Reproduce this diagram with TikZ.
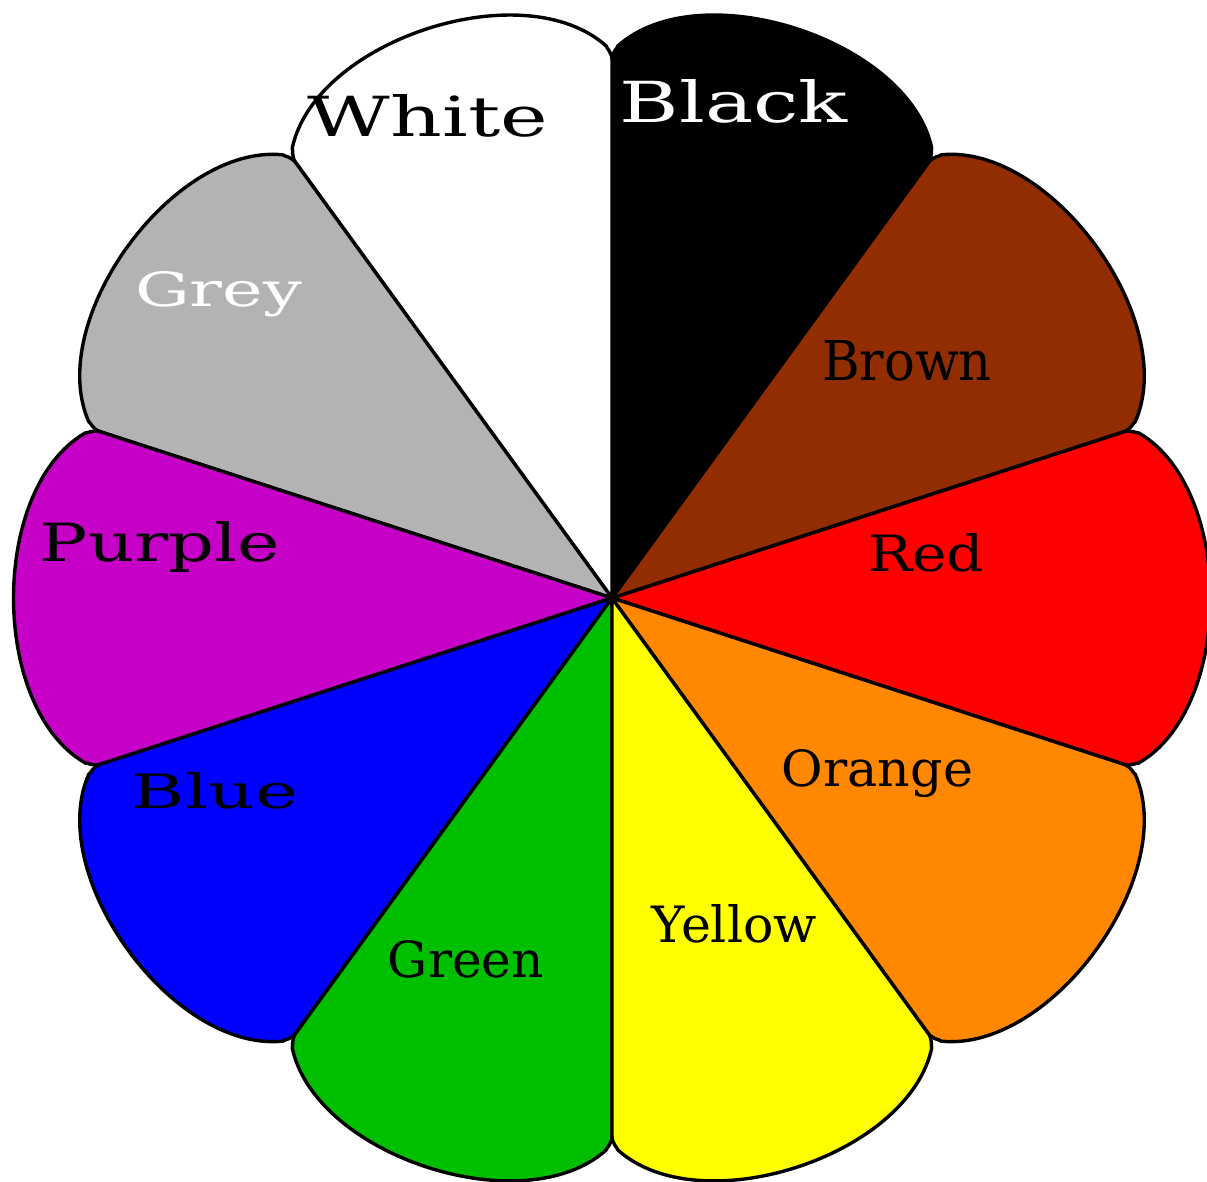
\documentclass[tikz,border=0pt]{standalone}
\usepackage{fontspec}
\setmainfont{DejaVu Serif}
\usepackage{graphicx}
\definecolor{cred}{RGB}{255,0,0}
\definecolor{cbrown}{RGB}{145,45,0}
\definecolor{cgrey}{RGB}{179,179,179}
\definecolor{cpurple}{RGB}{198,0,198}
\definecolor{cblue}{RGB}{0,0,255}
\definecolor{cgreen}{RGB}{0,191,0}
\definecolor{cyellow}{RGB}{255,255,0}
\definecolor{corange}{RGB}{255,136,0}
\begin{document}
\begin{tikzpicture}[x=0.5pt,y=0.5pt,
  petal/.style={draw=black,line width=1.7pt,line join=round},
  lbl/.style={anchor=base,inner sep=0pt,outer sep=0pt}]
\useasboundingbox (0,0) rectangle (1207,1182);
\begin{scope}[shift={(612,584)}]
\foreach \a/\col in {-18/cred,18/cbrown,54/black,90/white,126/cgrey,162/cpurple,198/cblue,234/cgreen,270/cyellow,306/corange}{
  \pgfmathsetmacro{\b}{\a+36}
  \pgfmathsetmacro{\ca}{\a+8}
  \pgfmathsetmacro{\cb}{\b-8}
  \pgfmathsetmacro{\ea}{\a+0.6}
  \pgfmathsetmacro{\eb}{\b-0.6}
  \filldraw[petal,fill=\col] (0,0) -- (\a:538) .. controls (\a:546) and (\ea:550) .. (\ea:552)
    .. controls (\ca:632) and (\cb:632) .. (\eb:552) .. controls (\eb:550) and (\b:546) .. (\b:538) -- cycle;
}
\end{scope}
\node[lbl,text=black] (lwhite) at (428,1045) {\resizebox{120pt}{21pt}{White}};
\node[lbl,text=white] (lblack) at (734,1059) {\resizebox{114pt}{21.5pt}{Black}};
\node[lbl,text=black] (lbrown) at (907,801) {\resizebox{85pt}{20pt}{Brown}};
\node[lbl,text=black] (lred) at (926,610) {\resizebox{58pt}{19pt}{Red}};
\node[lbl,text=black] (lorange) at (877.5,395) {\resizebox{95.5pt}{18.5pt}{Orange}};
\node[lbl,text=black] (lyellow) at (734.5,239) {\resizebox{82.5pt}{19pt}{Yellow}};
\node[lbl,text=black] (lgreen) at (466,204) {\resizebox{78pt}{18.5pt}{Green}};
\node[lbl,text=black] (lblue) at (215,373) {\resizebox{83pt}{18pt}{Blue}};
\node[lbl,text=black] (lpurple) at (160,620) {\resizebox{120pt}{20pt}{Purple}};
\node[lbl,text=white] (lgrey) at (218.5,875) {\resizebox{83.5pt}{17.5pt}{Grey}};
\end{tikzpicture}
\end{document}
